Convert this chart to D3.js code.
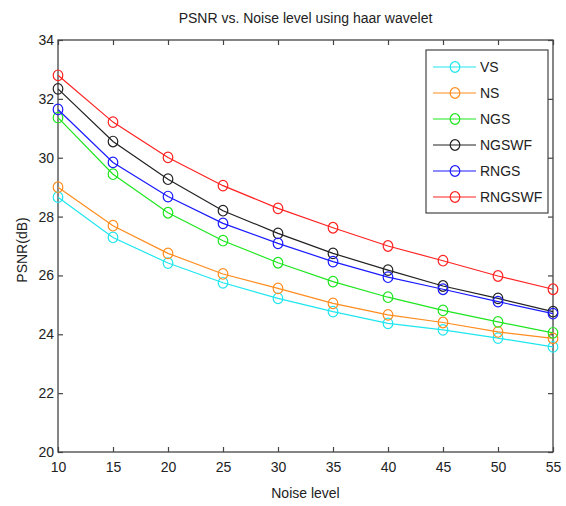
<!DOCTYPE html>
<html>
<head>
<meta charset="utf-8">
<script src="https://cdn.jsdelivr.net/npm/d3@7"></script>
<style>
  body { margin: 0; background: #fff; }
  text { font-family: "Liberation Sans Narrow", "Liberation Sans", Arial, sans-serif; fill: #222; }
</style>
</head>
<body>
<script>
// noise levels on the x axis
var noise = [10, 15, 20, 25, 30, 35, 40, 45, 50, 55]

// PSNR (dB) per method
var vs     = [28.66, 27.29, 26.42, 25.75, 25.22, 24.77, 24.37, 24.15, 23.87, 23.57]
var ns     = [29.00, 27.69, 26.75, 26.05, 25.56, 25.05, 24.66, 24.40, 24.08, 23.86]
var ngs    = [31.36, 29.44, 28.13, 27.18, 26.43, 25.79, 25.26, 24.81, 24.42, 24.05]
var ngswf  = [32.34, 30.55, 29.27, 28.20, 27.43, 26.75, 26.18, 25.64, 25.22, 24.77]
var rngs   = [31.64, 29.84, 28.68, 27.77, 27.09, 26.47, 25.94, 25.53, 25.11, 24.70]
var rngswf = [32.80, 31.21, 30.01, 29.05, 28.28, 27.62, 27.00, 26.50, 25.98, 25.53]

var names  = ['VS', 'NS', 'NGS', 'NGSWF', 'RNGS', 'RNGSWF']
var colors = ['#1ee6ee', '#ff8c1e', '#1ee61e', '#222222', '#1a1aff', '#ff2222']
var series = [vs, ns, ngs, ngswf, rngs, rngswf]

var xTicks = [10, 15, 20, 25, 30, 35, 40, 45, 50, 55]
var yTicks = [20, 22, 24, 26, 28, 30, 32, 34]

var W = 566, H = 506
var pLeft = 58, pRight = 553, pTop = 40, pBottom = 452
var fs = 14

var svg = d3.select('body').append('svg')
  .attr('width', W).attr('height', H)

var x = d3.scaleLinear().domain([10, 55]).range([pLeft, pRight])
var y = d3.scaleLinear().domain([20, 34]).range([pBottom, pTop])

var axisCol = '#444'

// frame
svg.append('rect')
  .attr('x', pLeft).attr('y', pTop)
  .attr('width', pRight - pLeft).attr('height', pBottom - pTop)
  .attr('fill', 'none').attr('stroke', axisCol).attr('stroke-width', 1.3)

// bottom / left axes with inward ticks, top / right ticks without labels
var xAxis = svg.append('g').attr('transform', 'translate(0,' + pBottom + ')')
  .call(d3.axisBottom(x).tickValues(xTicks).tickSize(-5).tickPadding(10))
var yAxis = svg.append('g').attr('transform', 'translate(' + pLeft + ',0)')
  .call(d3.axisLeft(y).tickValues(yTicks).tickSize(-5).tickPadding(4))
var xTop = svg.append('g').attr('transform', 'translate(0,' + pTop + ')')
  .call(d3.axisTop(x).tickValues(xTicks).tickSize(-5).tickFormat(''))
var yRight = svg.append('g').attr('transform', 'translate(' + pRight + ',0)')
  .call(d3.axisRight(y).tickValues(yTicks).tickSize(-5).tickFormat(''))

;[xAxis, yAxis, xTop, yRight].forEach(function(g) {
  g.select('.domain').remove()
  g.selectAll('line').attr('stroke', axisCol).attr('stroke-width', 1.2)
  g.selectAll('text').attr('font-size', fs).attr('fill', '#222')
    .style('font-family', '"Liberation Sans Narrow", "Liberation Sans", Arial, sans-serif')
})

// lines and markers
var line = d3.line()
  .x(function(d, i) { return x(noise[i]) })
  .y(function(d) { return y(d) })

series.forEach(function(s, k) {
  svg.append('path').datum(s)
    .attr('d', line)
    .attr('fill', 'none')
    .attr('stroke', colors[k])
    .attr('stroke-width', 1.2)
  svg.selectAll('.m' + k).data(s).enter().append('ellipse')
    .attr('class', 'm' + k)
    .attr('cx', function(d, i) { return x(noise[i]) })
    .attr('cy', function(d) { return y(d) })
    .attr('rx', 4.8).attr('ry', 5.3)
    .attr('fill', 'none')
    .attr('stroke', colors[k])
    .attr('stroke-width', 1.2)
})

// legend
svg.append('rect')
  .attr('x', 426).attr('y', 50).attr('width', 122).attr('height', 163)
  .attr('fill', '#fff').attr('stroke', axisCol).attr('stroke-width', 1.2)
names.forEach(function(n, k) {
  var ly = 67 + k * 26
  svg.append('line')
    .attr('x1', 433).attr('x2', 476).attr('y1', ly).attr('y2', ly)
    .attr('stroke', colors[k]).attr('stroke-width', 1.2)
  svg.append('ellipse')
    .attr('cx', 455).attr('cy', ly).attr('rx', 4.8).attr('ry', 5.3)
    .attr('fill', 'none').attr('stroke', colors[k]).attr('stroke-width', 1.2)
  svg.append('text')
    .attr('x', 480).attr('y', ly + 5)
    .attr('font-size', fs)
    .text(n)
})

// titles
svg.append('text')
  .attr('x', (pLeft + pRight) / 2).attr('y', 23)
  .attr('text-anchor', 'middle').attr('font-size', fs)
  .text('PSNR vs. Noise level using haar wavelet')
svg.append('text')
  .attr('x', (pLeft + pRight) / 2).attr('y', 498)
  .attr('text-anchor', 'middle').attr('font-size', fs)
  .text('Noise level')
svg.append('text')
  .attr('transform', 'translate(27,250) rotate(-90)')
  .attr('text-anchor', 'middle').attr('font-size', fs)
  .text('PSNR(dB)')
</script>
</body>
</html>
